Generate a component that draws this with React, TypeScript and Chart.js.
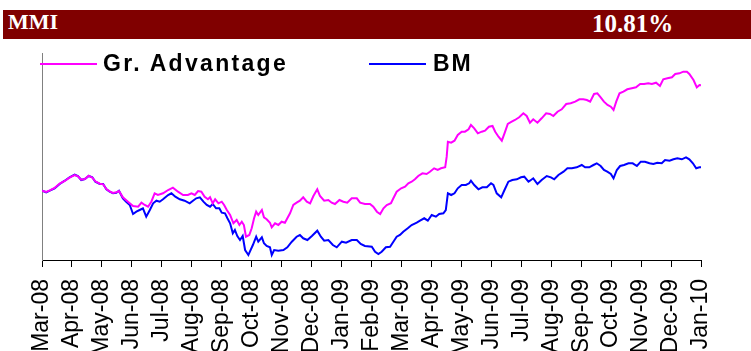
import React, { useEffect, useRef } from "react";
import { Chart, registerables } from "chart.js";

Chart.register(...registerables);

// Header texts
const headerLeft = "MMI";
const headerRight = "10.81%";

// Series names and colours
const seriesNames = ["Gr. Advantage", "BM"];
const seriesColors = ["#FF00FF", "#0000FF"];

// X axis tick labels (one per month, position = month index)
const monthLabels = [
  "Mar-08", "Apr-08", "May-08", "Jun-08", "Jul-08", "Aug-08", "Sep-08", "Oct-08",
  "Nov-08", "Dec-08", "Jan-09", "Feb-09", "Mar-09", "Apr-09", "May-09", "Jun-09",
  "Jul-09", "Aug-09", "Sep-09", "Oct-09", "Nov-09", "Dec-09", "Jan-10",
];

// Gr. Advantage: time (months since Mar-08) and index level
const gaMonths = [
  0.00, 0.14, 0.26, 0.42, 0.59, 0.76, 0.92, 1.09, 1.20, 1.31, 1.43, 1.56, 1.68, 1.78, 1.93,
  2.04, 2.15, 2.26, 2.37, 2.48, 2.57, 2.70, 2.87, 3.04, 3.21, 3.32, 3.43, 3.54, 3.65, 3.76,
  3.87, 4.04, 4.21, 4.37, 4.54, 4.71, 4.87, 4.99, 5.10, 5.21, 5.32, 5.43, 5.54, 5.61, 5.70,
  5.78, 5.89, 6.00, 6.08, 6.17, 6.28, 6.39, 6.50, 6.59, 6.67, 6.74, 6.81, 6.92, 7.00, 7.08,
  7.15, 7.22, 7.34, 7.41, 7.50, 7.61, 7.67, 7.78, 7.89, 8.00, 8.11, 8.19, 8.28, 8.39, 8.50,
  8.61, 8.72, 8.84, 8.95, 9.06, 9.19, 9.28, 9.42, 9.56, 9.67, 9.78, 9.93, 10.06, 10.19, 10.34,
  10.51, 10.62, 10.78, 10.95, 11.06, 11.18, 11.29, 11.40, 11.51, 11.65, 11.73, 11.84, 11.99, 12.12, 12.23,
  12.34, 12.45, 12.56, 12.70, 12.84, 12.95, 13.09, 13.21, 13.32, 13.46, 13.51, 13.55, 13.66, 13.77, 13.88,
  14.01, 14.12, 14.24, 14.32, 14.43, 14.55, 14.68, 14.79, 14.92, 15.04, 15.13, 15.24, 15.35, 15.44, 15.55,
  15.68, 15.79, 15.93, 16.07, 16.18, 16.29, 16.40, 16.54, 16.68, 16.83, 16.96, 17.07, 17.21, 17.35, 17.50,
  17.65, 17.80, 17.94, 18.07, 18.19, 18.30, 18.43, 18.54, 18.65, 18.76, 18.88, 18.99, 19.08, 19.17, 19.28,
  19.41, 19.54, 19.69, 19.83, 19.97, 20.10, 20.24, 20.36, 20.50, 20.63, 20.74, 20.88, 21.03, 21.14, 21.28,
  21.41, 21.53, 21.61, 21.75, 21.86, 21.95, 22.00,
];
const gaValues = [
  69.3, 68.0, 69.6, 72.0, 76.5, 79.0, 82.3, 85.0, 83.7, 80.3, 81.0, 84.3, 82.3, 78.7, 76.3,
  75.7, 71.0, 68.7, 67.0, 67.7, 69.0, 62.7, 58.3, 54.0, 53.3, 57.3, 55.0, 53.3, 58.3, 66.7,
  65.0, 66.7, 70.0, 72.3, 68.3, 65.0, 65.0, 66.7, 65.0, 69.0, 68.3, 63.3, 60.7, 62.7, 56.7,
  60.7, 56.7, 58.3, 55.0, 50.0, 45.0, 36.7, 40.0, 35.0, 38.3, 35.0, 23.3, 25.0, 31.7, 41.7,
  48.3, 45.0, 50.0, 42.7, 40.7, 37.3, 32.7, 36.7, 35.0, 38.3, 37.3, 41.7, 46.7, 55.0, 57.3,
  59.3, 62.7, 58.3, 56.7, 64.0, 70.7, 64.0, 59.3, 60.0, 57.3, 56.0, 60.0, 58.3, 57.3, 61.7,
  61.7, 57.3, 56.0, 56.0, 53.3, 48.3, 46.0, 51.7, 55.0, 56.7, 61.7, 68.3, 71.7, 73.3, 76.7,
  78.3, 80.7, 84.0, 86.7, 86.0, 88.3, 91.7, 90.0, 91.7, 92.7, 103.3, 118.3, 117.3, 119.3, 125.0,
  128.3, 128.3, 130.7, 135.0, 131.7, 126.7, 128.3, 129.3, 133.3, 134.0, 128.3, 123.3, 119.3, 126.7, 136.0,
  138.3, 140.0, 142.7, 146.7, 144.0, 137.3, 140.7, 137.3, 141.7, 146.7, 146.0, 144.0, 148.3, 150.7, 156.0,
  156.7, 158.3, 160.7, 160.7, 160.0, 158.3, 166.0, 166.7, 162.7, 158.3, 155.0, 153.3, 150.0, 158.3, 166.7,
  168.3, 170.7, 171.7, 172.7, 176.0, 176.0, 176.7, 176.0, 177.3, 174.0, 180.7, 181.7, 182.7, 186.0, 186.7,
  188.3, 188.3, 186.0, 180.0, 172.7, 175.0, 174.7,
];

// BM: time (months since Mar-08) and index level
const bmMonths = [
  0.00, 0.14, 0.26, 0.42, 0.59, 0.76, 0.92, 1.09, 1.20, 1.31, 1.43, 1.56, 1.68, 1.78, 1.93,
  2.04, 2.15, 2.26, 2.37, 2.48, 2.57, 2.70, 2.81, 2.93, 3.04, 3.15, 3.26, 3.37, 3.48, 3.60,
  3.71, 3.82, 3.93, 4.04, 4.21, 4.32, 4.45, 4.60, 4.76, 4.93, 5.04, 5.15, 5.27, 5.39, 5.50,
  5.61, 5.70, 5.81, 5.92, 6.00, 6.11, 6.19, 6.28, 6.37, 6.44, 6.52, 6.61, 6.70, 6.78, 6.89,
  6.94, 7.04, 7.15, 7.22, 7.34, 7.41, 7.50, 7.61, 7.67, 7.75, 7.89, 8.06, 8.19, 8.34, 8.50,
  8.61, 8.72, 8.86, 9.01, 9.19, 9.31, 9.42, 9.56, 9.71, 9.84, 10.01, 10.15, 10.34, 10.51, 10.64,
  10.78, 11.01, 11.12, 11.23, 11.34, 11.48, 11.62, 11.73, 11.84, 11.95, 12.06, 12.21, 12.34, 12.51, 12.62,
  12.76, 12.88, 13.01, 13.15, 13.26, 13.40, 13.48, 13.55, 13.66, 13.77, 13.88, 14.01, 14.15, 14.26, 14.32,
  14.43, 14.57, 14.70, 14.85, 14.99, 15.07, 15.18, 15.33, 15.44, 15.57, 15.70, 15.85, 15.99, 16.10, 16.24,
  16.29, 16.40, 16.54, 16.68, 16.85, 16.99, 17.10, 17.24, 17.41, 17.54, 17.69, 17.85, 18.02, 18.13, 18.27,
  18.41, 18.52, 18.65, 18.76, 18.87, 18.99, 19.08, 19.19, 19.30, 19.43, 19.58, 19.72, 19.86, 19.99, 20.13,
  20.28, 20.41, 20.54, 20.69, 20.80, 20.95, 21.08, 21.21, 21.36, 21.50, 21.61, 21.73, 21.84, 21.95, 22.00,
];
const bmValues = [
  69.3, 67.7, 69.3, 71.7, 76.0, 79.3, 82.7, 85.3, 84.0, 80.0, 81.0, 84.0, 82.7, 78.3, 76.0,
  76.0, 70.7, 68.3, 66.7, 67.3, 69.3, 61.7, 58.3, 55.0, 46.0, 48.3, 50.0, 51.7, 43.3, 50.0,
  56.7, 59.3, 58.3, 60.7, 65.0, 66.7, 63.3, 60.7, 59.3, 56.7, 59.3, 61.7, 62.7, 58.3, 55.0,
  53.3, 56.0, 51.7, 51.7, 47.3, 46.7, 41.7, 36.7, 26.7, 30.0, 24.0, 20.0, 24.0, 10.0, 5.0,
  8.3, 15.0, 23.3, 18.3, 22.7, 16.7, 14.0, 12.7, 5.0, 10.0, 9.3, 10.0, 12.7, 18.3, 23.3,
  25.0, 21.7, 20.0, 24.0, 29.3, 23.3, 19.3, 20.0, 15.0, 12.7, 18.3, 17.3, 20.0, 20.0, 16.0,
  14.0, 13.3, 8.3, 6.0, 8.3, 12.7, 13.3, 18.3, 23.3, 25.0, 28.3, 31.7, 35.0, 37.3, 39.3,
  41.7, 39.3, 45.0, 43.3, 46.0, 46.7, 50.0, 66.7, 65.0, 66.7, 71.7, 75.0, 75.0, 76.7, 79.3,
  75.0, 70.7, 72.7, 72.7, 76.7, 75.0, 66.7, 62.7, 70.0, 78.3, 80.0, 80.7, 82.7, 83.3, 78.3,
  79.3, 81.7, 76.0, 80.0, 84.0, 82.7, 80.7, 85.0, 88.3, 91.7, 91.7, 92.7, 95.0, 92.7, 92.7,
  95.0, 96.7, 94.0, 90.0, 88.3, 86.0, 81.7, 90.0, 94.0, 95.0, 96.7, 96.7, 94.0, 98.3, 98.3,
  96.7, 96.0, 97.3, 96.7, 100.0, 99.3, 100.7, 101.7, 100.7, 102.7, 100.7, 96.7, 91.7, 92.7, 92.7,
];

const toPoints = (xs: number[], ys: number[]) => xs.map((x, i) => ({ x, y: ys[i] }));

export default function App() {
  const canvasRef = useRef<HTMLCanvasElement | null>(null);

  useEffect(() => {
    document.body.style.margin = "0";
    const canvas = canvasRef.current;
    if (!canvas) return;
    const chart = new Chart(canvas, {
      type: "line",
      data: {
        datasets: [
          {
            label: seriesNames[0],
            data: toPoints(gaMonths, gaValues),
            borderColor: seriesColors[0],
            backgroundColor: seriesColors[0],
            borderWidth: 2,
            pointRadius: 0,
            tension: 0,
            fill: false,
          },
          {
            label: seriesNames[1],
            data: toPoints(bmMonths, bmValues),
            borderColor: seriesColors[1],
            backgroundColor: seriesColors[1],
            borderWidth: 2,
            pointRadius: 0,
            tension: 0,
            fill: false,
          },
        ],
      },
      options: {
        responsive: false,
        animation: false,
        devicePixelRatio: 1,
        layout: { padding: { left: 42, right: 50, top: 53, bottom: 0 } },
        plugins: { legend: { display: false }, tooltip: { enabled: false }, title: { display: false } },
        scales: {
          x: {
            type: "linear",
            min: 0,
            max: monthLabels.length - 1,
            afterBuildTicks: (scale: any) => {
              scale.ticks = monthLabels.map((_, i) => ({ value: i }));
            },
            afterFit: (scale: any) => {
              scale.height = 120;
            },
            grid: { display: true, drawOnChartArea: false, drawTicks: true, tickLength: 7, color: "#000000", lineWidth: 1 },
            border: { display: true, color: "#000000", width: 1 },
            ticks: {
              autoSkip: false,
              minRotation: 90,
              maxRotation: 90,
              padding: 12,
              color: "#000000",
              font: { family: "'Liberation Sans', Arial, sans-serif", size: 23 },
              callback: (v: any) => monthLabels[Math.round(Number(v))] ?? "",
            },
          },
          y: {
            min: 0,
            max: 207,
            afterFit: (scale: any) => {
              scale.width = 0;
            },
            grid: { display: false },
            border: { display: true, color: "#808080", width: 1 },
            ticks: { display: false },
          },
        },
      },
    });
    return () => chart.destroy();
  }, []);

  const serif = "'Liberation Serif', 'Times New Roman', serif";
  const sans = "'Liberation Sans', Arial, sans-serif";

  return (
    <div style={{ position: "fixed", left: 0, top: 0, width: 751, height: 351, overflow: "hidden", background: "#ffffff" }}>
      <div style={{ position: "absolute", left: 3, top: 10, width: 748, height: 29, background: "#800000" }} />
      <div style={{ position: "absolute", left: 8, top: 10.5, font: `bold 22px/1 ${serif}`, color: "#ffffff", whiteSpace: "nowrap" }}>
        {headerLeft}
      </div>
      <div style={{ position: "absolute", left: 592, top: 10.8, font: `bold 25px/1 ${serif}`, color: "#ffffff", whiteSpace: "nowrap" }}>
        {headerRight}
      </div>
      <canvas ref={canvasRef} width={751} height={380} style={{ position: "absolute", left: 0, top: 0, width: 751, height: 380 }} />
      <div style={{ position: "absolute", left: 40, top: 63, width: 57, height: 2, background: seriesColors[0] }} />
      <div style={{ position: "absolute", left: 103, top: 51.5, font: `bold 23px/1 ${sans}`, letterSpacing: "2.3px", color: "#000000", whiteSpace: "nowrap" }}>
        {seriesNames[0]}
      </div>
      <div style={{ position: "absolute", left: 369, top: 63, width: 57, height: 2, background: seriesColors[1] }} />
      <div style={{ position: "absolute", left: 433, top: 51.5, font: `bold 23px/1 ${sans}`, letterSpacing: "2px", color: "#000000", whiteSpace: "nowrap" }}>
        {seriesNames[1]}
      </div>
    </div>
  );
}
